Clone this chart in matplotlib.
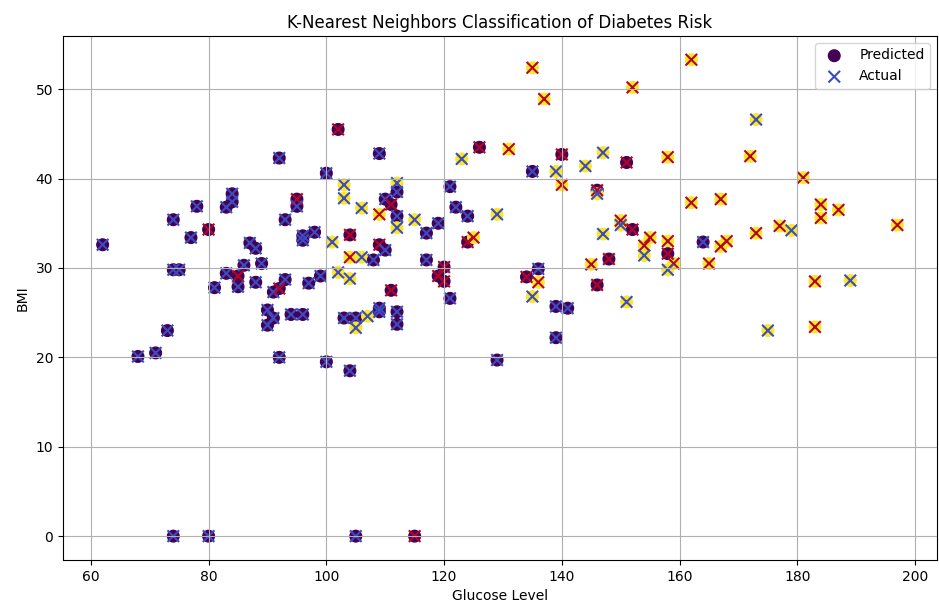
import numpy as np
import matplotlib
matplotlib.use("Agg")
import matplotlib.pyplot as plt

# Dati: glucosio, BMI, classe predetta e classe reale
glucose = [62, 68, 71, 73, 74, 74, 75, 74, 77, 78, 80, 80, 81, 83, 83, 84, 84, 85, 85, 86,
           87, 88, 88, 89, 90, 91, 90, 91, 92, 92, 92, 93, 93, 94, 96, 95, 95, 96, 96, 97,
           98, 99, 100, 100, 101, 102, 103, 103, 102, 104, 104, 104, 103, 105, 105, 104, 105, 106, 109, 123,
           126, 131, 140, 147, 151, 135, 139, 144, 140, 146, 146, 112, 112, 110, 111, 109, 112, 112, 115, 119,
           117, 121, 122, 124, 129, 124, 125, 106, 108, 109, 110, 117, 120, 119, 120, 111, 121, 107, 109, 109,
           112, 112, 129, 134, 136, 136, 135, 139, 141, 139, 147, 150, 150, 145, 148, 146, 151, 135, 137, 162,
           152, 173, 158, 172, 181, 162, 167, 184, 184, 187, 197, 152, 155, 154, 154, 158, 158, 159, 158, 164,
           165, 167, 168, 173, 177, 179, 183, 189, 175, 183, 115]
bmi = [32.6, 20.1, 20.5, 23.0, 35.4, 29.8, 29.8, 0, 33.4, 36.9, 34.3, 0, 27.8, 29.4, 36.8, 38.3, 37.4, 29.1, 27.9, 30.3,
       32.8, 32.2, 28.4, 30.5, 25.3, 24.4, 23.6, 27.3, 27.7, 42.3, 20.0, 35.4, 28.7, 24.8, 24.8, 37.7, 36.9, 33.6, 33.1, 28.3,
       34.0, 29.1, 40.6, 19.5, 32.9, 45.5, 39.3, 37.8, 29.5, 28.8, 33.7, 31.2, 24.4, 24.4, 23.3, 18.5, 0, 36.7, 42.8, 42.2,
       43.5, 43.3, 42.7, 42.9, 41.8, 40.8, 40.8, 41.4, 39.3, 38.7, 38.3, 39.5, 38.5, 37.7, 37.1, 36.0, 35.8, 34.5, 35.4, 35.0,
       33.9, 39.1, 36.8, 35.8, 36.0, 32.9, 33.4, 31.2, 30.9, 32.6, 32.0, 30.9, 30.1, 29.1, 28.5, 27.5, 26.6, 24.6, 25.5, 25.1,
       25.1, 23.7, 19.7, 29.0, 29.9, 28.4, 26.8, 25.7, 25.5, 22.2, 33.8, 35.3, 34.8, 30.4, 31.0, 28.1, 26.2, 52.4, 48.9, 53.3,
       50.2, 46.6, 42.4, 42.5, 40.1, 37.3, 37.7, 37.1, 35.6, 36.5, 34.8, 34.3, 33.4, 32.5, 31.4, 33.0, 31.6, 30.5, 29.8, 32.9,
       30.5, 32.4, 33.0, 33.9, 34.7, 34.2, 28.5, 28.6, 23.0, 23.4, 0]
# B = (0,0), R = (0,1), Y = (1,1), C = (1,0)  -> (predetto, reale)
codes = ("BBBBBBBBBBRBBBBBBRBB"
         "BBBBBBBBRBBBBBBRBBBB"
         "BBBBCRCCCCRYBBCBBCBC"
         "RYRCRBCCYRCCBBRYBCCB"
         "BBBBCRYCBRBBRRRRBCBB"
         "BBBRBYCBBBCYCYRRCYYY"
         "YCYYYYYYYYYRYYCYRYCB"
         "YYYYYCYCCYR")
mappa = {"B": (0, 0), "R": (0, 1), "Y": (1, 1), "C": (1, 0)}
y_pred = [mappa[c][0] for c in codes]
y_test = [mappa[c][1] for c in codes]

# Grafico a dispersione

fig, ax = plt.subplots(figsize=(9.39, 6.08), dpi=100)
fig.subplots_adjust(left=0.067, right=0.998, top=0.941, bottom=0.079)

ax.scatter(glucose, bmi, c=y_pred, cmap="viridis", marker="o", s=70, label="Predicted")
ax.scatter(glucose, bmi, c=y_test, cmap="coolwarm", marker="x", s=70, label="Actual")

# Titoli e assi

ax.set_title("K-Nearest Neighbors Classification of Diabetes Risk")
ax.set_xlabel("Glucose Level")
ax.set_ylabel("BMI")
ax.grid(True)
ax.legend(loc="upper right")

plt.savefig("out.png")
